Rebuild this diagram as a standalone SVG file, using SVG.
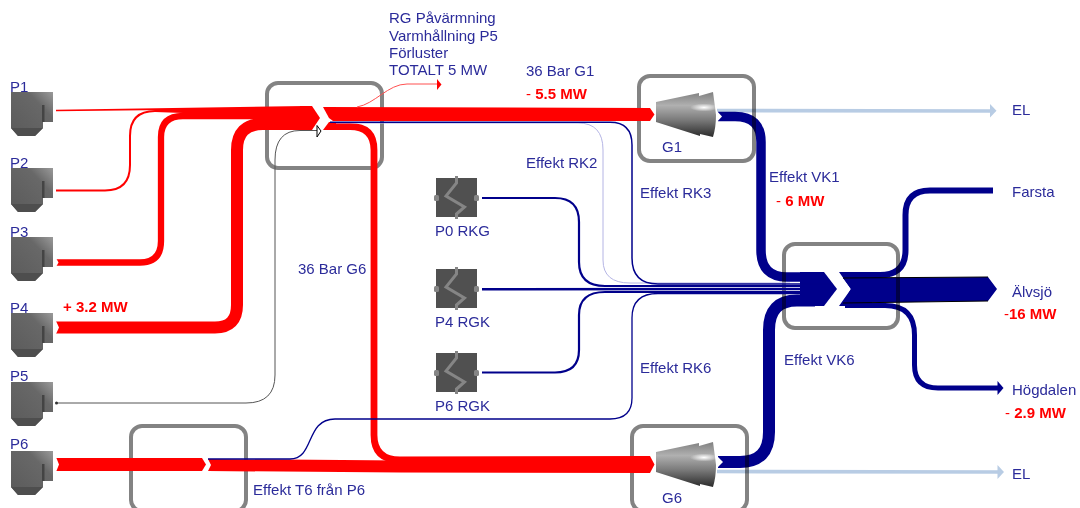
<svg xmlns="http://www.w3.org/2000/svg" width="1080" height="508" viewBox="0 0 1080 508">
<style>
text{font-family:"Liberation Sans",Arial,sans-serif;font-size:15px;fill:#2b2b9a}
.r{fill:#ff0000;font-weight:bold}
.d{fill:#ff0000;font-weight:normal}
.frame{fill:none;stroke:#838383;stroke-width:4}
.f{fill:none;stroke-linecap:butt;stroke-linejoin:round}
.red{stroke:#ff0000}
.blue{stroke:#00008b}
.m{mix-blend-mode:multiply}
.el{stroke:#b8cce4;stroke-width:3.600;fill:none}
.elh{fill:#b8cce4}
.rf{fill:#ff0000}
.bf{fill:#00008b}
.w{fill:#ffffff}
</style>
<defs>
<linearGradient id="bg" x1="0" y1="1" x2="1" y2="0">
<stop offset="0" stop-color="#5a5a5a"/><stop offset="0.7" stop-color="#686868"/><stop offset="1" stop-color="#9a9a9a"/>
</linearGradient>
<linearGradient id="tg" x1="0" y1="0" x2="0" y2="1">
<stop offset="0" stop-color="#808080"/><stop offset="0.3" stop-color="#b0b0b0"/><stop offset="0.62" stop-color="#7a7a7a"/><stop offset="1" stop-color="#2a2a2a"/>
</linearGradient>
<radialGradient id="hl" cx="0.5" cy="0.5" r="0.5">
<stop offset="0" stop-color="#fff" stop-opacity="1"/><stop offset="1" stop-color="#fff" stop-opacity="0"/>
</radialGradient>
<g id="boiler">
<path d="M0 0H42V30H32V36L24 44H7L0 36Z" fill="url(#bg)"/>
<path d="M0 36H32L24 44H7Z" fill="#4e4e4e"/>
<rect x="31" y="13" width="2.500" height="17" fill="#444"/>
</g>
<g id="valve">
<rect x="0" y="0" width="41" height="39" fill="#505050"/>
<path d="M20.500 -2V5L10 18L28.500 29L20.500 36V41" fill="none" stroke="#858585" stroke-width="3"/>
<rect x="-2" y="17" width="5" height="6" rx="1.500" fill="#858585"/>
<rect x="38" y="17" width="5" height="6" rx="1.500" fill="#858585"/>
</g>
<g id="turbine">
<path d="M0 10L43 1V4L57 0Q60 22 60 23Q60 35 57 45L44 42V44L0 30Z" fill="url(#tg)"/>
<ellipse cx="48" cy="15.500" rx="14" ry="4" fill="url(#hl)"/>
</g>
</defs>

<g id="frame-junction-36bar"><rect class="frame" x="267" y="83" width="115" height="85" rx="11"/></g>
<g id="frame-g1"><rect class="frame" x="639" y="76" width="115" height="85" rx="11"/></g>
<g id="frame-junction-vk"><rect class="frame" x="784" y="244" width="114" height="84" rx="11"/></g>
<g id="frame-g6"><rect class="frame" x="632" y="426" width="115" height="85" rx="11"/></g>
<g id="frame-t6"><rect class="frame" x="131" y="426" width="115" height="85" rx="11"/></g>

<g id="connectors">
<g class="m">
<path class="el" d="M717 110.500L992 111"/>
<path class="elh" d="M990 104L996.500 110.800L990 117.500Z"/>
<path class="el" d="M717 471.500L999 472"/>
<path class="elh" d="M997.500 465L1004 472L997.500 479Z"/>
</g>
<g class="m">
<path class="f blue" stroke-width="9.500" d="M718 116.500H735Q761 116.500 761 142V250Q761 277 787 277H815"/>
<path class="f blue" stroke-width="12" d="M718 462H740Q769 462 769 432V330Q769 300.500 797 300.500H815"/>
<path class="bf" d="M800 272L824 272L837 289L824 306L800 306Z"/>
<path class="f blue" stroke-width="6" d="M845 275H880Q905.500 275 905.500 250V215Q905.500 190.500 930 190.500H993" stroke-linecap="round"/>
<path class="f blue" stroke-width="5" d="M845 305.500H885Q914.500 305.500 914.500 335V365Q914.500 388 938 388H999"/>
<path class="bf" d="M997.500 381L1003.500 388L997.500 395Z"/>
<path class="bf" d="M839 272H872V306H839L851 289Z"/>
<path class="bf" d="M843 278L988 277L997 289L988 301L843 303L851 289Z"/>
<path d="M843 278L988 277M843 303L988 301" stroke="#000" stroke-width="1" fill="none"/>
</g>
<path class="w" d="M716 110L722 116.500L716 123Z"/>
<path class="w" d="M716 455L723 462L716 469Z"/>

<path class="rf" d="M56 109.800L305 106V108.500L56 111.300Z"/>
<path class="f red" stroke-width="2" d="M56 190.500H105Q130 190.500 130 165V136Q130 111 155 111H305"/>
<path class="rf" d="M155 109.500L305 107V118L183 113L155 112Z"/>
<path class="f red" stroke-width="6.300" d="M56 262.500H140Q161 262.500 161 241V137Q161 116 183 116H305"/>
<path class="f red" stroke-width="12" d="M56 327.500H215Q237 327.500 237 305V150Q237 124 263 124H305"/>
<path class="rf" d="M300 106H312L320 118L312 130H300Z"/>
<path class="rf" d="M323 107L650 108L654.500 114.500L650 121H333L329 118Z"/>
<path class="rf" d="M323 130L329 122H336V130Z"/>
<path class="f red" stroke-width="6.800" d="M330 126.500H350Q374 126.500 374 150V435Q374 460 400 460"/>
<path class="rf" d="M56 458H202L206 464.500L202 471H56Z"/>
<path class="rf" d="M208 459L400 460.500V456.500L650 456L654.500 464.500L650 473L400 472.500L208 471L211 465Z"/>
<path class="w" d="M56 258L58.500 262.500L56 267Z"/>
<path class="w" d="M56 321L59 327.500L56 334Z"/>
<path class="w" d="M56 457L59 464.500L56 472Z"/>

<path d="M357 107C375 104 388 84 407 84H438" fill="none" stroke="#ff5050" stroke-width="1"/>
<path class="rf" d="M437 79L441.500 84.500L437 90Z"/>

<path d="M56 403H246Q275 403 275 375V160Q275 130.500 300 130.500H317" fill="none" stroke="#555" stroke-width="1"/>
<circle cx="56.500" cy="403" r="1.500" fill="#333"/>
<path d="M317 125.500L321 131L317 137Z" fill="#fff" stroke="#000" stroke-width="1"/>

<path class="f" stroke="#b4b4e4" stroke-width="1" d="M336 123H578Q603 123 603 150V260Q603 283 630 283H790"/>
<path class="f blue" stroke-width="1.500" d="M330 122.300H610Q632 122.300 632 145V258Q632 284 658 284H830"/>
<path class="f blue" stroke-width="2.200" d="M482 198H555Q579 198 579 222V262Q579 286 605 286H830"/>
<path class="f blue" stroke-width="2.500" d="M482 289.200L835 289"/>
<path class="f blue" stroke-width="2.200" d="M482 372.500H555Q579 372.500 579 350V315Q579 292 605 292H830"/>
<path class="f blue" stroke-width="1.300" d="M208 459H290C315 459 305 419 335 419H610Q632 419 632 398V318Q632 293.500 658 293.500H830"/>
</g>

<g id="P1"><use href="#boiler" x="11" y="92"/><text x="10" y="92">P1</text></g>
<g id="P2"><use href="#boiler" x="11" y="168"/><text x="10" y="168">P2</text></g>
<g id="P3"><use href="#boiler" x="11" y="237"/><text x="10" y="237">P3</text></g>
<g id="P4"><use href="#boiler" x="11" y="313"/><text x="10" y="313">P4</text></g>
<g id="P5"><use href="#boiler" x="11" y="382"/><text x="10" y="381">P5</text></g>
<g id="P6"><use href="#boiler" x="11" y="451"/><text x="10" y="449">P6</text></g>

<g id="P0-RKG"><use href="#valve" x="436" y="178"/><text x="435" y="236">P0 RKG</text></g>
<g id="P4-RGK"><use href="#valve" x="436" y="269"/><text x="435" y="327">P4 RGK</text></g>
<g id="P6-RGK"><use href="#valve" x="436" y="353"/><text x="435" y="411">P6 RGK</text></g>

<g id="G1"><use href="#turbine" x="656" y="92"/><text x="662" y="152">G1</text></g>
<g id="G6"><use href="#turbine" x="656" y="442"/><text x="662" y="503">G6</text></g>

<g id="labels">
<text x="389" y="23">RG Påvärmning</text>
<text x="389" y="40.500">Varmhållning P5</text>
<text x="389" y="57.500">Förluster</text>
<text x="389" y="74.500">TOTALT 5 MW</text>
<text x="526" y="76">36 Bar G1</text>
<text x="526" y="99"><tspan class="d">- </tspan><tspan class="r">5.5 MW</tspan></text>
<text x="526" y="168">Effekt RK2</text>
<text x="640" y="198">Effekt RK3</text>
<text x="769" y="182">Effekt VK1</text>
<text x="776" y="206"><tspan class="d">- </tspan><tspan class="r">6 MW</tspan></text>
<text x="298" y="274">36 Bar G6</text>
<text x="63" y="312"><tspan class="r">+ 3.2 MW</tspan></text>
<text x="784" y="365">Effekt VK6</text>
<text x="640" y="373">Effekt RK6</text>
<text x="253" y="495">Effekt T6 från P6</text>
<text x="1012" y="115">EL</text>
<text x="1012" y="197">Farsta</text>
<text x="1012" y="297">Älvsjö</text>
<text x="1004" y="319"><tspan class="d">-</tspan><tspan class="r">16 MW</tspan></text>
<text x="1012" y="395">Högdalen</text>
<text x="1005" y="418"><tspan class="d">- </tspan><tspan class="r">2.9 MW</tspan></text>
<text x="1012" y="479">EL</text>
</g>
</svg>
